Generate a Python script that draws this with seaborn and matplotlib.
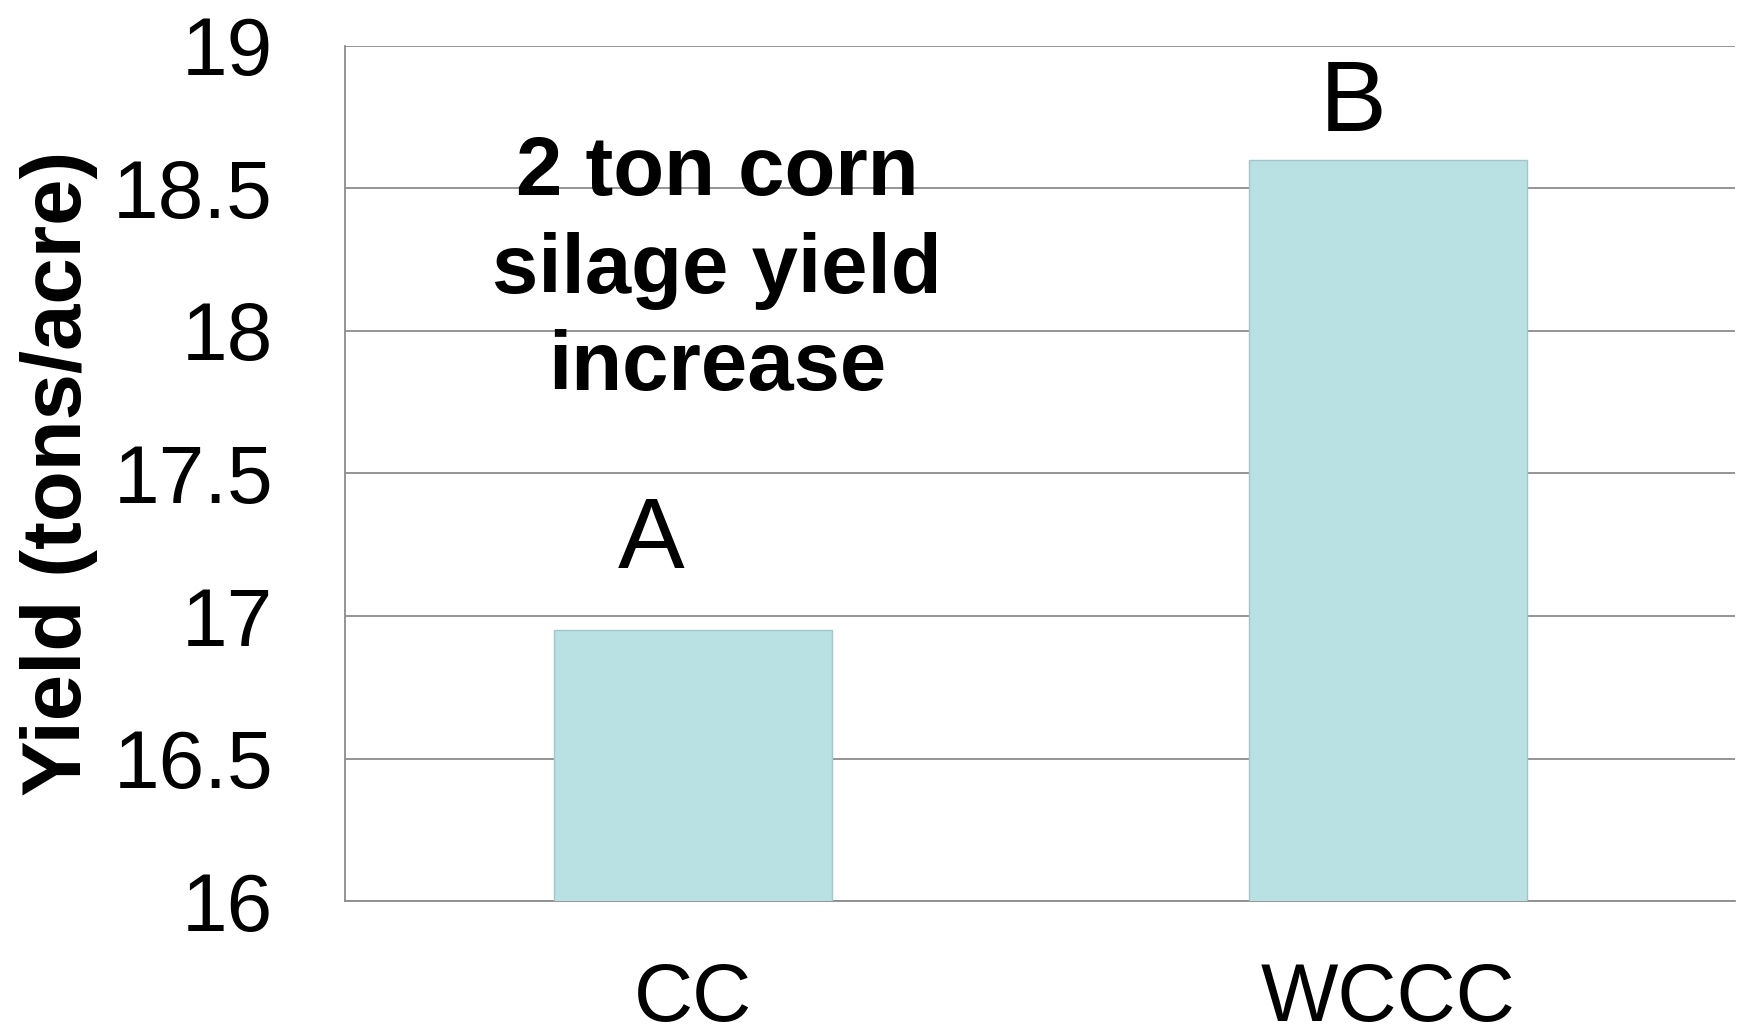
import pandas as pd
import seaborn as sns
from matplotlib import pyplot as plt

# values
categories = ["CC", "WCCC"]
yields = [16.95, 18.6]
letters = ["A", "B"]
y_ticks = [16, 16.5, 17, 17.5, 18, 18.5, 19]
y_tick_labels = ["16", "16.5", "17", "17.5", "18", "18.5", "19"]
note = "2 ton corn\nsilage yield\nincrease"

sns.set_style("white")
plt.rcParams["font.family"] = ["Liberation Sans", "DejaVu Sans"]
plt.rcParams.update({
    "text.color": "black",
    "axes.labelcolor": "black",
    "xtick.color": "black",
    "ytick.color": "black",
})

df = pd.DataFrame({"treatment": categories, "yield": yields})

fig = plt.figure(figsize=(17.44, 10.36), dpi=100)
ax = fig.add_axes([0.198, 0.130, 0.797, 0.826])

sns.barplot(
    data=df,
    x="treatment",
    y="yield",
    color="#b9e0e3",
    saturation=1,
    width=0.4,
    edgecolor="#a3c6ca",
    linewidth=1,
    ax=ax,
    zorder=3,
)

ax.set_ylim(16, 19)
ax.set_xlim(-0.5, 1.5)
ax.set_yticks(y_ticks)
ax.set_yticklabels(y_tick_labels)
ax.yaxis.grid(True, color="#8c8c8c", linewidth=1.3, zorder=0)
ax.set_axisbelow(True)

for side in ["top", "right"]:
    ax.spines[side].set_visible(False)
for side in ["left", "bottom"]:
    ax.spines[side].set_color("#8c8c8c")
    ax.spines[side].set_linewidth(1.3)

ax.tick_params(axis="y", length=0, pad=52, labelsize=59)
ax.tick_params(axis="x", length=0, pad=44, labelsize=59)
ax.set_xlabel("")
ax.set_ylabel("Yield (tons/acre)", fontsize=60, fontweight="bold")
ax.yaxis.set_label_coords(-0.178, 0.5)

# significance letters above the bars
letter_dx = [-0.06, -0.05]
letter_dy = [0.31, 0.19]
for i, (val, lab) in enumerate(zip(yields, letters)):
    ax.text(i + letter_dx[i], val + letter_dy[i], lab, ha="center", va="center",
            fontsize=72)

ax.text(0.035, 18.21, note, ha="center", va="center", fontsize=60,
        fontweight="bold", linespacing=1.32)

fig.savefig("out.png", dpi=100)
